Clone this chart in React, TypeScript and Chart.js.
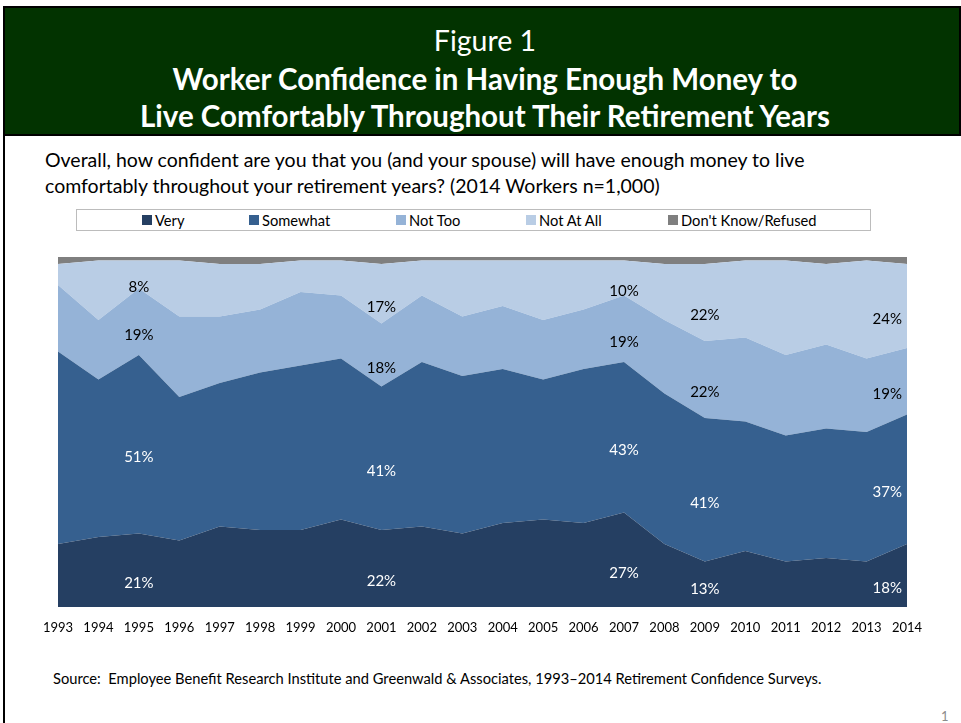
import React, { useEffect, useRef } from "react";
import { Chart, registerables } from "chart.js";

Chart.register(...registerables);

const years = ["1993", "1994", "1995", "1996", "1997", "1998", "1999", "2000", "2001", "2002", "2003", "2004", "2005", "2006", "2007", "2008", "2009", "2010", "2011", "2012", "2013", "2014"];
const very = [18, 20, 21, 19, 23, 22, 22, 25, 22, 23, 21, 24, 25, 24, 27, 18, 13, 16, 13, 14, 13, 18];
const somewhat = [55, 45, 51, 41, 41, 45, 47, 46, 41, 47, 45, 44, 40, 44, 43, 43, 41, 37, 36, 37, 37, 37];
const notToo = [19, 17, 19, 23, 19, 18, 21, 18, 18, 19, 17, 18, 17, 17, 19, 21, 22, 24, 23, 24, 21, 19];
const notAtAll = [6, 17, 8, 16, 15, 13, 9, 10, 17, 10, 16, 13, 17, 14, 10, 16, 22, 22, 27, 23, 28, 24];
const dontKnow = [2, 1, 1, 1, 2, 2, 1, 1, 2, 1, 1, 1, 1, 1, 1, 2, 2, 1, 1, 2, 1, 2];
const seriesNames = ["Very", "Somewhat", "Not Too", "Not At All", "Don't Know/Refused"];
const seriesColors = ["#253f62", "#36608f", "#95b3d7", "#b9cde5", "#7f7f7f"];
const labeledYears = ["1995", "2001", "2007", "2009", "2014"];
const labelColors = ["#ffffff", "#ffffff", "#000000", "#000000"];

const FONT = "Lato, 'Noto Sans', sans-serif";

const labelPlugin = {
  id: "areaLabels",
  afterDatasetsDraw(chart: any) {
    const ctx = chart.ctx;
    const xs = chart.scales.x;
    const ys = chart.scales.y;
    const area = chart.chartArea;
    ctx.save();
    ctx.font = `15px ${FONT}`;
    ctx.textAlign = "center";
    ctx.textBaseline = "middle";
    for (let d = 0; d < 4; d++) {
      const ds = chart.data.datasets[d];
      labeledYears.forEach((yr) => {
        const i = years.indexOf(yr);
        let base = 0;
        for (let k = 0; k < d; k++) base += chart.data.datasets[k].data[i];
        const v = ds.data[i];
        const txt = `${v}%`;
        const w = ctx.measureText(txt).width;
        let x = xs.getPixelForValue(i);
        x = Math.min(x, area.right - w / 2 - 5);
        const y = Math.min(ys.getPixelForValue(base + v / 2) + 13, area.bottom - 18);
        ctx.fillStyle = labelColors[d];
        ctx.fillText(txt, x, y);
      });
    }
    ctx.restore();
  },
};

export default function App() {
  const ref = useRef<HTMLCanvasElement | null>(null);

  useEffect(() => {
    document.body.style.margin = "0";
    if (!ref.current) return;
    const values = [very, somewhat, notToo, notAtAll, dontKnow];
    const chart = new Chart(ref.current, {
      type: "line",
      data: {
        labels: years,
        datasets: values.map((vals, idx) => ({
          label: seriesNames[idx],
          data: vals,
          backgroundColor: seriesColors[idx],
          borderColor: seriesColors[idx],
          borderWidth: 0,
          pointRadius: 0,
          tension: 0,
          fill: idx === 0 ? "origin" : "-1",
        })),
      },
      options: {
        animation: false,
        responsive: false,
        layout: { padding: { left: 58, right: 54, top: 17, bottom: 0 } },
        plugins: {
          legend: { display: false },
          tooltip: { enabled: false },
          title: { display: false },
        },
        scales: {
          x: {
            type: "category",
            offset: false,
            grid: { display: false },
            border: { display: false },
            ticks: {
              color: "#000000",
              font: { family: FONT, size: 13 },
              maxRotation: 0,
              autoSkip: false,
              padding: 5,
            },
            afterFit: (scale: any) => {
              scale.height = 33;
            },
          },
          y: {
            display: false,
            stacked: true,
            min: 0,
            max: 100,
          },
        },
      },
      plugins: [labelPlugin],
    });
    return () => chart.destroy();
  }, []);

  const legendItems = [
    { x: 142, t: seriesNames[0], c: seriesColors[0] },
    { x: 249, t: seriesNames[1], c: seriesColors[1] },
    { x: 396, t: seriesNames[2], c: seriesColors[2] },
    { x: 526, t: seriesNames[3], c: seriesColors[3] },
    { x: 668, t: seriesNames[4], c: seriesColors[4] },
  ];

  const line = (top: number, text: string, size: number, bold: boolean) => (
    <div
      style={{
        position: "absolute",
        left: 0,
        width: 970,
        top: top - 20,
        height: 40,
        lineHeight: "40px",
        textAlign: "center",
        color: "#ffffff",
        fontSize: size,
        fontWeight: bold ? 700 : 400,
        whiteSpace: "nowrap",
      }}
    >
      {text}
    </div>
  );

  return (
    <div style={{ position: "absolute", left: 0, top: 0, width: 961, height: 723, background: "#ffffff", fontFamily: FONT, overflow: "hidden" }}>
      <div style={{ position: "absolute", left: 3, top: 6, width: 958, height: 130, background: "#023300", border: "2px solid #000", boxSizing: "border-box" }} />
      <div style={{ position: "absolute", left: 3, top: 134, width: 2, height: 600, background: "#000" }} />
      {line(40, "Figure 1", 28.5, false)}
      {line(79, "Worker Confidence in Having Enough Money to", 29.5, true)}
      {line(116, "Live Comfortably Throughout Their Retirement Years", 29.5, true)}
      <div style={{ position: "absolute", left: 45, top: 147, lineHeight: "26px", fontSize: 19.5, color: "#000", whiteSpace: "nowrap" }}>
        Overall, how confident are you that you (and your spouse) will have enough money to live
        <br />
        comfortably throughout your retirement years? (2014 Workers n=1,000)
      </div>
      <div style={{ position: "absolute", left: 76, top: 209, width: 795, height: 22, border: "1px solid #bcbcbc", boxSizing: "border-box" }} />
      {legendItems.map((it) => (
        <div key={it.t} style={{ position: "absolute", left: it.x, top: 210, height: 20, display: "flex", alignItems: "center", fontSize: 14.7, color: "#000", whiteSpace: "nowrap" }}>
          <span style={{ display: "inline-block", width: 10, height: 10, background: it.c, marginRight: 3 }} />
          <span>{it.t}</span>
        </div>
      ))}
      <div style={{ position: "absolute", left: 0, top: 240, width: 961, height: 400 }}>
        <canvas ref={ref} width={961} height={400} style={{ width: 961, height: 400, display: "block" }} />
      </div>
      <div style={{ position: "absolute", left: 53, top: 669, lineHeight: "18px", fontSize: 14.7, color: "#000", whiteSpace: "nowrap" }}>
        Source:&nbsp; Employee Benefit Research Institute and Greenwald &amp; Associates, 1993–2014 Retirement Confidence Surveys.
      </div>
      <div style={{ position: "absolute", left: 941, top: 707, lineHeight: "18px", fontSize: 13, color: "#8c8c8c" }}>1</div>
    </div>
  );
}
